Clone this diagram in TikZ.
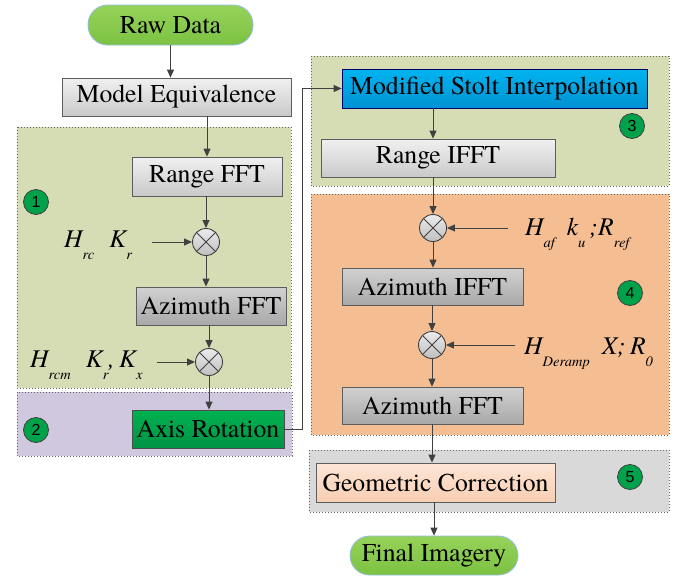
\documentclass[tikz,border=0pt]{standalone}
\usepackage{fontspec}
\IfFontExistsTF{texgyretermes-regular.otf}{%
  \setmainfont{texgyretermes}[Extension=.otf,UprightFont=*-regular,ItalicFont=*-italic,BoldFont=*-bold,BoldItalicFont=*-bolditalic]}{%
  \IfFontExistsTF{LiberationSerif-Regular.ttf}{%
    \setmainfont{LiberationSerif}[Extension=.ttf,UprightFont=*-Regular,ItalicFont=*-Italic,BoldFont=*-Bold,BoldItalicFont=*-BoldItalic]}{%
    \setmainfont{Liberation Serif}}}
\newfontfamily\numfont{Liberation Sans}
\usetikzlibrary{arrows.meta,calc}
\definecolor{panelgreen}{RGB}{214,221,181}
\definecolor{panelpurple}{RGB}{208,200,222}
\definecolor{panelorange}{RGB}{244,190,146}
\definecolor{panelgray}{RGB}{217,217,217}
\definecolor{linegray}{RGB}{64,64,64}
\definecolor{numgreen}{RGB}{0,161,75}
\newcommand{\lsub}[1]{\raisebox{-0.5em}{\fontsize{14.5}{14.5}\selectfont #1}}
\tikzset{
  panel/.style={draw=linegray!80, dotted, line width=1pt},
  boxbase/.style={draw=linegray!85, line width=0.8pt, inner sep=0pt, font=\fontsize{25.7}{30}\selectfont, text=black},
  lightbox/.style={boxbase, top color=white!94!black, bottom color=white!79!black},
  darkbox/.style={boxbase, top color=white!82!black, bottom color=white!66!black},
  bluebox/.style={boxbase, draw=blue!40!black, top color={rgb,255:red,0;green,180;blue,240}, bottom color={rgb,255:red,0;green,146;blue,210}},
  greenbox/.style={boxbase, draw=black!70, top color={rgb,255:red,0;green,178;blue,80}, bottom color={rgb,255:red,0;green,146;blue,70}},
  peachbox/.style={boxbase, top color={rgb,255:red,252;green,230;blue,214}, bottom color={rgb,255:red,248;green,206;blue,178}},
  pill/.style={boxbase, draw={rgb,255:red,150;green,190;blue,225}, rounded corners=19.5pt, top color={rgb,255:red,150;green,210;blue,90}, bottom color={rgb,255:red,124;green,194;blue,66}},
  mult/.style={circle, draw=linegray, line width=0.9pt, minimum size=27pt, inner sep=0pt, top color=white!92!black, bottom color=white!75!black},
  numc/.style={circle, draw=black!75, line width=0.8pt, fill=numgreen, minimum size=25pt, inner sep=0pt, font=\numfont\fontsize{16}{16}\selectfont, text=black},
  arr/.style={draw=linegray, line width=1pt, -{Triangle[length=8pt,width=7pt]}},
  lbl/.style={anchor=base west, inner sep=0pt, font=\fontsize{25.5}{28}\selectfont\itshape}
}
\begin{document}
\begin{tikzpicture}[x=1pt,y=-1pt]
\useasboundingbox (0,0) rectangle (689,576);
% panels
\path[fill=panelgreen] (17,127) rectangle (291,388);
\draw[panel] (17,127) rectangle (291,388);
\path[fill=panelpurple] (17,392) rectangle (292,456);
\draw[panel] (17,392) rectangle (292,456);
\path[fill=panelgreen] (311,56) rectangle (669,186);
\draw[panel] (311,56) rectangle (669,186);
\path[fill=panelorange] (311,194) rectangle (669,435);
\draw[panel] (311,194) rectangle (669,435);
\path[fill=panelgray] (309,450) rectangle (669,512);
\draw[panel] (309,450) rectangle (669,512);
% nodes
\node[pill, minimum width=165pt, minimum height=40pt] (raw) at (170.5,25) {Raw Data};
\node[lightbox, minimum width=229pt, minimum height=38pt] (me) at (176.5,97) {Model Equivalence};
\node[lightbox, minimum width=150pt, minimum height=39pt] (rfft) at (207,176.5) {Range FFT};
\node[mult] (m1) at (206,242) {};
\node[darkbox, minimum width=150pt, minimum height=38pt] (afft1) at (211,306) {Azimuth FFT};
\node[mult] (m2) at (209,362) {};
\node[greenbox, minimum width=152pt, minimum height=38pt] (axis) at (208,429) {Axis Rotation};
\node[bluebox, minimum width=305pt, minimum height=39pt] (msi) at (494.5,88.5) {Modified Stolt Interpolation};
\node[lightbox, minimum width=234pt, minimum height=38pt] (rifft) at (438,158) {Range IFFT};
\node[mult] (m3) at (433,228) {};
\node[darkbox, minimum width=181pt, minimum height=37pt] (aifft) at (432.5,286.5) {Azimuth IFFT};
\node[mult] (m4) at (432,345) {};
\node[darkbox, minimum width=181pt, minimum height=37pt] (afft2) at (432.5,405.5) {Azimuth FFT};
\node[peachbox, minimum width=239pt, minimum height=39pt] (geo) at (435.5,482.5) {Geometric Correction};
\node[pill, minimum width=168pt, minimum height=39pt] (final) at (434,555.5) {Final Imagery};
% crosses in multipliers
\foreach \m in {m1,m2,m3,m4}{
  \draw[linegray, line width=0.9pt] (\m.north west) -- (\m.south east) (\m.north east) -- (\m.south west);
}
% number circles
\node[numc] (n1) at (36,202) {1};
\node[numc] (n2) at (36,430) {2};
\node[numc] (n3) at (632,126) {3};
\node[numc] (n4) at (630,293) {4};
\node[numc] (n5) at (630,477) {5};
% labels
\node[lbl] (l1) at (64,247) {H\lsub{rc}\hspace{15pt}K\lsub{r}};
\node[lbl] (l2) at (30,367) {H\lsub{rcm}\hspace{15pt}K\lsub{r},\,K\lsub{x}};
\node[lbl] (l3) at (525,235) {H\lsub{af}\hspace{12pt}k\lsub{u}\,;R\lsub{ref}};
\node[lbl] (l4) at (524,354) {H\lsub{Deramp}\hspace{12pt}X;\,R\lsub{0}};
\coordinate (i1) at (152,242);
\coordinate (i2) at (157,362);
\coordinate (i3) at (508,228);
\coordinate (i4) at (515,345);
% connectors
\draw[arr] (raw.south) -- (raw.south |- me.north);
\draw[arr] (me.south -| rfft.north) -- (rfft.north);
\draw[arr] (rfft.south -| m1) -- (m1.north);
\draw[arr] (m1.south) -- (m1 |- afft1.north);
\draw[arr] (afft1.south -| m2) -- (m2.north);
\draw[arr] (m2.south) -- (m2 |- axis.north);
\draw[arr] (axis.east) -- ++(18,0) |- (msi.west);
\draw[arr] (msi.south -| m3) -- (m3 |- rifft.north);
\draw[arr] (rifft.south -| m3) -- (m3.north);
\draw[arr] (m3.south) -- (m3 |- aifft.north);
\draw[arr] (aifft.south -| m4) -- (m4.north);
\draw[arr] (m4.south) -- (m4 |- afft2.north);
\draw[arr] (afft2.south -| m4) -- (m4 |- geo.north);
\draw[arr] (geo.south -| final) -- (final.north);
\draw[arr] (i1) -- (m1.west);
\draw[arr] (i2) -- (m2.west);
\draw[arr] (i3) -- (m3.east);
\draw[arr] (i4) -- (m4.east);
\end{tikzpicture}
\end{document}
